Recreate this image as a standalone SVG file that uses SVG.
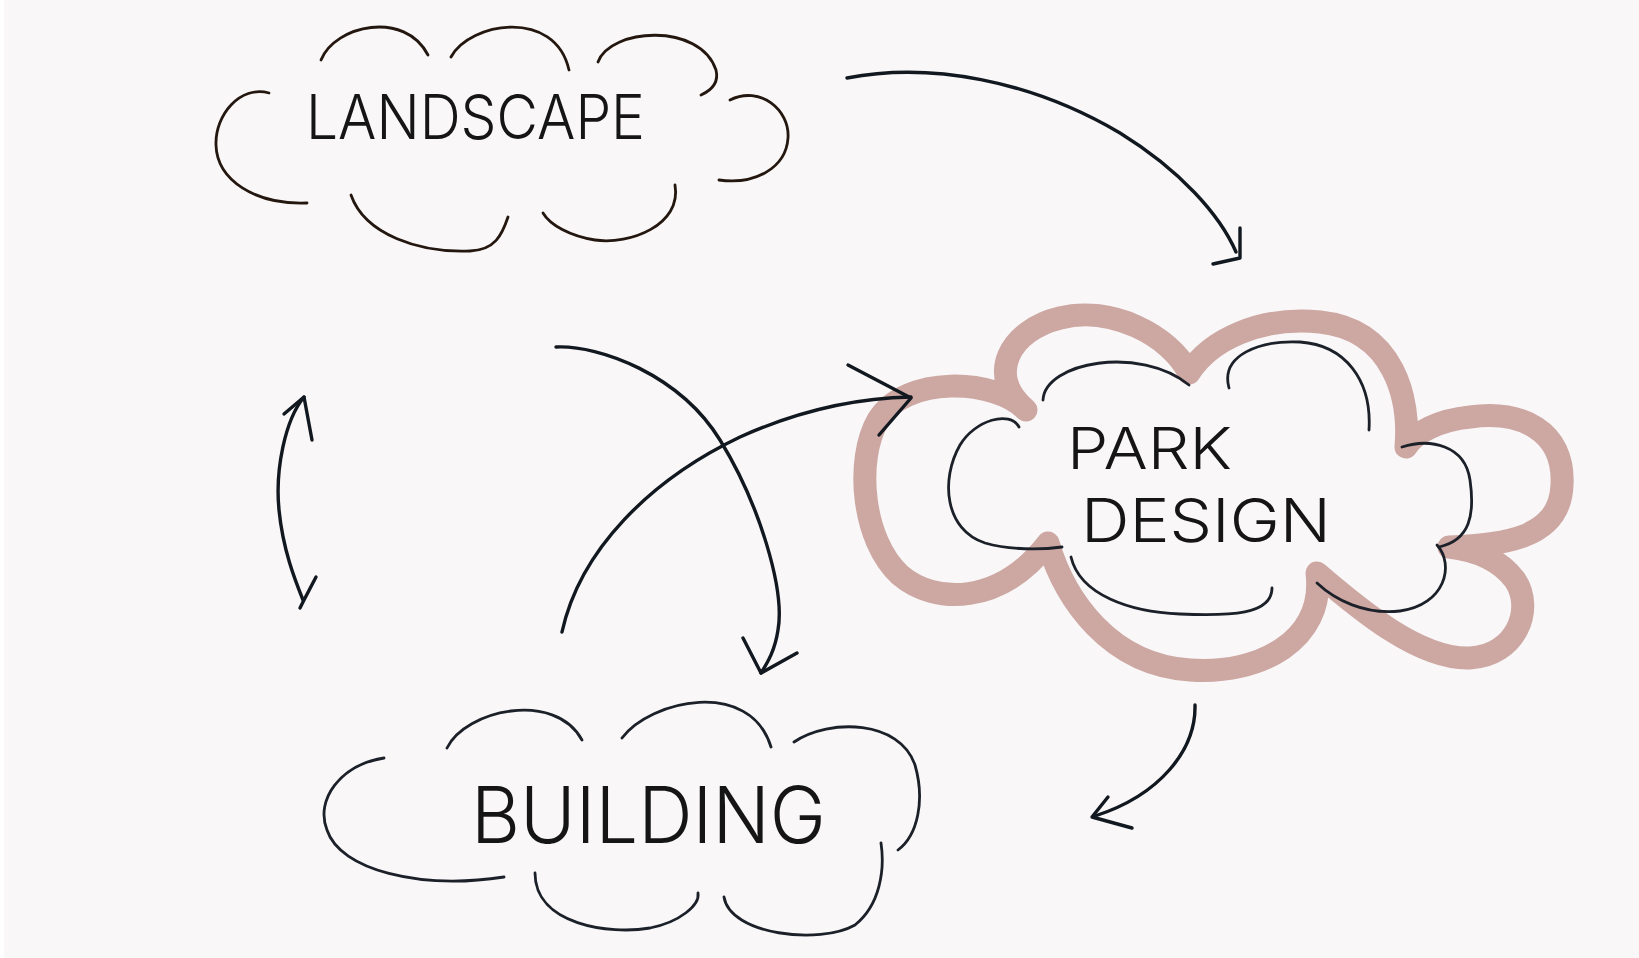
<svg xmlns="http://www.w3.org/2000/svg" width="1639" height="958" viewBox="0 0 1639 958">
<style>
.cl{fill:none;stroke:#1b2029;stroke-width:2.8;stroke-linecap:round;stroke-linejoin:round}
.cb{fill:none;stroke:#24170f;stroke-width:2.8;stroke-linecap:round;stroke-linejoin:round}
.ar{fill:none;stroke:#12181f;stroke-width:3.4;stroke-linecap:round;stroke-linejoin:round}
.pk{fill:none;stroke:#cda7a2;stroke-width:23;stroke-linecap:round;stroke-linejoin:round}
.tx{font-family:Inter,"Liberation Sans",sans-serif;font-weight:300;fill:#151515}
</style>
<rect width="1639" height="958" fill="#f9f7f8"/>
<rect width="4" height="958" fill="#ffffff"/>
<g id="landscape">
<path class="cb" d="M321,60 C335,25 405,10 428,55"/>
<path class="cb" d="M451,57 C470,22 555,8 569,70"/>
<path class="cb" d="M598,62 C610,28 700,22 716,70 C719,82 712,90 701,95"/>
<path class="cb" d="M730,100 C760,85 790,110 788,138 C786,168 755,185 719,180"/>
<path class="cb" d="M675,185 C682,225 630,245 595,240 C570,236 550,225 543,213"/>
<path class="cb" d="M508,217 C502,235 495,250 470,251 C420,253 365,235 351,195"/>
<path class="cb" d="M269,93 C240,85 215,115 216,145 C217,180 255,205 307,203"/>
<text class="tx" x="306" y="139" font-size="62" textLength="339" lengthAdjust="spacingAndGlyphs">LANDSCAPE</text>
</g>
<g id="park-design">
<path class="pk" d="M1026,410 C995,378 905,375 878,420 C855,460 862,540 900,575 C935,605 1000,605 1048,543 C1065,600 1110,665 1190,670 C1260,675 1325,640 1317,573 C1360,610 1420,660 1470,658 C1515,656 1535,610 1515,580 C1500,560 1475,550 1449,547 C1500,545 1560,540 1562,485 C1565,430 1520,410 1470,417 C1440,420 1415,432 1406,447 C1410,400 1395,330 1320,322 C1260,316 1210,340 1189,373 C1170,335 1110,305 1060,318 C1010,330 985,375 1026,410 Z"/>
<path class="cl" d="M1043,400 C1045,362 1140,345 1189,385"/>
<path class="cl" d="M1229,388 C1220,355 1260,340 1300,342 C1345,345 1372,380 1369,430"/>
<path class="cl" d="M1019,427 C1010,410 975,420 960,445 C940,480 945,530 985,543 C1010,550 1040,550 1062,547"/>
<path class="cl" d="M1402,447 C1430,438 1465,445 1470,480 C1475,515 1470,540 1439,547"/>
<path class="cl" d="M1437,545 C1455,565 1445,605 1400,611 C1365,615 1335,600 1317,583"/>
<path class="cl" d="M1071,557 C1080,595 1130,612 1180,614 C1230,616 1272,615 1272,588"/>
<text class="tx" font-size="58"><tspan x="1067" y="469" textLength="165" lengthAdjust="spacingAndGlyphs">PARK</tspan><tspan x="1081" y="542" font-size="60" textLength="250" lengthAdjust="spacingAndGlyphs">DESIGN</tspan></text>
</g>
<g id="building">
<path class="cl" d="M447,748 C465,710 555,690 582,740"/>
<path class="cl" d="M622,738 C650,700 750,678 771,747"/>
<path class="cl" d="M794,742 C830,718 900,720 915,765 C925,800 918,835 898,850"/>
<path class="cl" d="M384,758 C340,765 315,800 327,830 C340,870 420,890 504,877"/>
<path class="cl" d="M535,873 C535,925 610,935 650,928 C680,922 700,905 698,893"/>
<path class="cl" d="M724,897 C730,935 820,945 855,925 C880,905 885,870 881,843"/>
<text class="tx" x="471" y="843" font-size="78" textLength="355" lengthAdjust="spacingAndGlyphs">BUILDING</text>
</g>
<g id="connectors">
<path class="ar" d="M847,78 C930,62 1030,80 1120,133 C1180,170 1220,215 1236,252"/>
<path class="ar" d="M1240,228 L1240,258 L1213,264"/>
<path class="ar" d="M562,632 C580,550 650,480 740,437 C800,410 860,398 911,397"/>
<path class="ar" d="M848,365 L911,398 L879,435"/>
<path class="ar" d="M556,347 C600,345 680,375 720,440 C760,505 785,590 778,630 C775,650 768,662 761,673"/>
<path class="ar" d="M743,638 L761,673 L797,653"/>
<path class="ar" d="M304,397 C285,420 275,470 279,510 C283,550 295,580 303,600"/>
<path class="ar" d="M284,414 L304,397 L312,440"/>
<path class="ar" d="M316,577 L304,600 L300,608"/>
<path class="ar" d="M1195,705 C1196,750 1160,795 1095,816"/>
<path class="ar" d="M1108,797 L1092,817 L1132,828"/>
</g>
</svg>
